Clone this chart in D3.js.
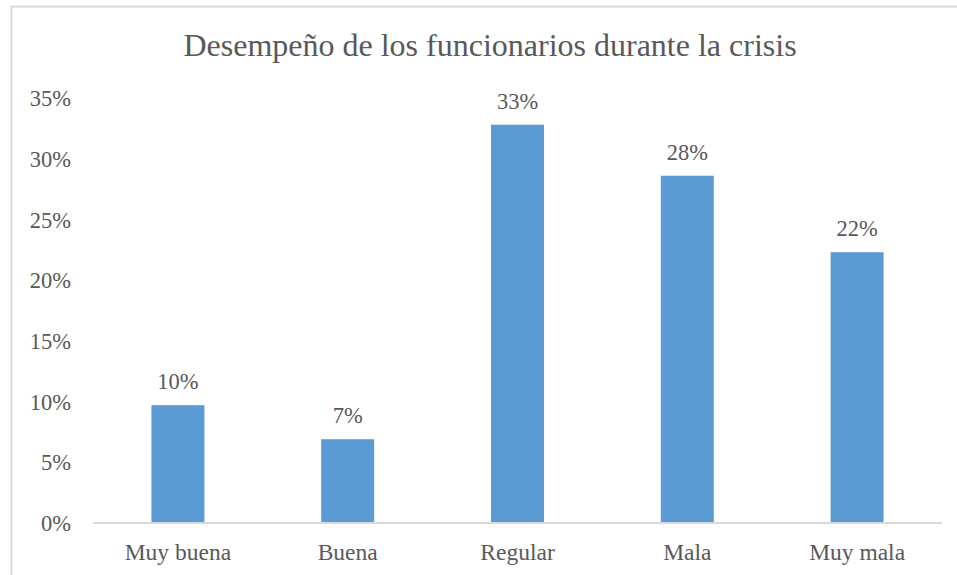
<!DOCTYPE html>
<html>
<head>
<meta charset="utf-8">
<script src="https://cdn.jsdelivr.net/npm/d3@7/dist/d3.min.js"></script>
<style>
  body { margin: 0; background: #fff; }
  svg text { font-family: "Liberation Serif", "Times New Roman", serif; fill: #595959; }
</style>
</head>
<body>
<div id="chart"></div>
<script>
// データ
const categories = ['Muy buena', 'Buena', 'Regular', 'Mala', 'Muy mala'];
const values = [9.7, 6.9, 32.8, 28.6, 22.3];
const labels = ['10%', '7%', '33%', '28%', '22%'];
const yTicks = [0, 5, 10, 15, 20, 25, 30, 35];
const title = 'Desempeño de los funcionarios durante la crisis';

const width = 957;
const height = 575;
const color = '#5b9bd5';
const fontFamily = '"Liberation Serif", "Times New Roman", serif';

const svg = d3.select('#chart').append('svg')
  .attr('width', width)
  .attr('height', height);

// 枠線
svg.append('rect')
  .attr('x', 11.5)
  .attr('y', 6.5)
  .attr('width', 980)
  .attr('height', 600)
  .attr('fill', 'none')
  .attr('stroke', '#d9d9d9')
  .attr('stroke-width', 2);

// タイトル
svg.append('text')
  .attr('x', 490)
  .attr('y', 56)
  .attr('text-anchor', 'middle')
  .style('font-size', '32px')
  .text(title);

const xScale = d3.scaleBand()
  .domain(categories)
  .range([93, 942])
  .paddingInner(0.688)
  .paddingOuter(0.344);

const yScale = d3.scaleLinear()
  .domain([0, 35])
  .range([523, 98]);

// Y軸
const axisy = d3.axisLeft(yScale)
  .tickValues(yTicks)
  .tickFormat(function (d) { return d + '%'; })
  .tickSize(0)
  .tickPadding(0);

const y = svg.append('g')
  .attr('transform', 'translate(71,0)')
  .attr('font-family', fontFamily)
  .call(axisy);
y.select('.domain').remove();
y.selectAll('text')
  .style('font-size', '22.5px')
  .attr('fill', '#595959')
  .attr('dy', '0.34em');

// X軸
const axisx = d3.axisBottom(xScale)
  .tickSize(0)
  .tickPadding(20);

const x = svg.append('g')
  .attr('transform', 'translate(0,523)')
  .attr('font-family', fontFamily)
  .call(axisx);
x.select('.domain').attr('stroke', '#d9d9d9').attr('stroke-width', 2)
  .attr('d', 'M93,0H942');
x.selectAll('text')
  .style('font-size', '23.5px')
  .attr('fill', '#595959');

// バー
svg.append('g')
  .selectAll('rect')
  .data(values)
  .join('rect')
  .attr('x', function (d, i) { return xScale(categories[i]); })
  .attr('y', function (d) { return yScale(d); })
  .attr('width', xScale.bandwidth())
  .attr('height', function (d) { return yScale(0) - yScale(d); })
  .attr('fill', color);

// データラベル
svg.append('g')
  .selectAll('text')
  .data(values)
  .join('text')
  .attr('x', function (d, i) { return xScale(categories[i]) + xScale.bandwidth() / 2; })
  .attr('y', function (d) { return yScale(d) - 16; })
  .attr('text-anchor', 'middle')
  .style('font-size', '22.5px')
  .text(function (d, i) { return labels[i]; });

// 軸線を前面に
x.raise();
</script>
</body>
</html>
